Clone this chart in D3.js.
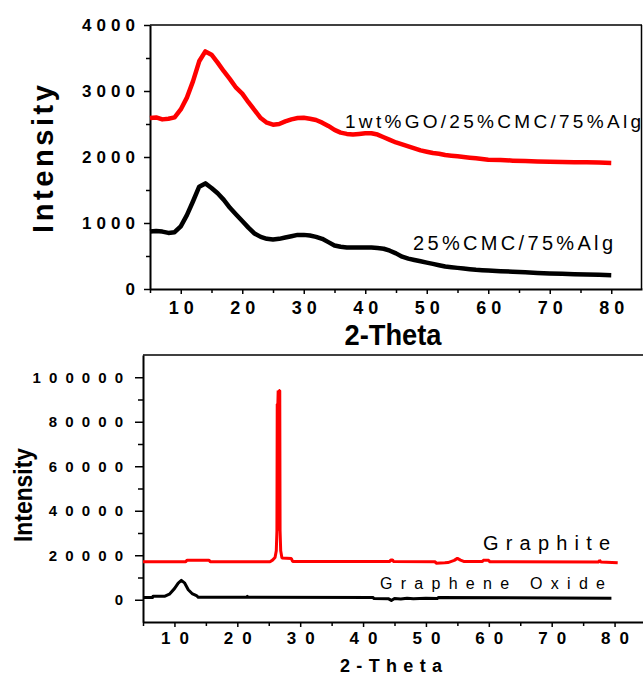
<!DOCTYPE html>
<html><head><meta charset="utf-8">
<script src="https://cdn.jsdelivr.net/npm/d3@7"></script>
<style>body{margin:0;background:#fff}svg{display:block;font-family:"Liberation Sans",Arial,sans-serif}</style>
</head><body><svg id="c" width="643" height="676"></svg>
<script>
// ---------- DATA: top panel (composite films) ----------
const twoThetaTop = [5,6,7,8,9,10,11,12,13,14,15,16,17,18,19,20,21,22,23,24,25,26,27,28,29,30,31,32,33,34,35,36,37,38,39,40,41,42,43,44,45,46,47,48,49,50,51,52,53,54,55,56,57,58,59,60,62,64,66,68,70,72,74,76,78,80];
const intensityGOFilm = [2590,2600,2570,2580,2600,2720,2900,3150,3450,3600,3550,3430,3300,3180,3050,2960,2830,2710,2590,2520,2490,2500,2540,2570,2590,2595,2580,2560,2520,2470,2410,2370,2350,2340,2350,2360,2360,2340,2300,2260,2220,2190,2160,2130,2100,2080,2060,2050,2030,2020,2010,2000,1990,1980,1970,1960,1955,1945,1938,1932,1928,1925,1922,1920,1915,1910];
const intensityBlendFilm = [870,880,870,850,860,950,1120,1330,1550,1600,1530,1450,1350,1230,1130,1030,930,840,790,760,750,760,780,800,820,820,810,790,760,710,660,640,630,630,630,630,630,620,610,580,540,490,460,440,420,400,380,360,340,330,320,310,300,290,285,280,270,262,252,243,235,230,224,220,215,210];
const topYTicks = [0,1000,2000,3000,4000];
const topYMinor = [500,1500,2500,3500];
const xTicks = [10,20,30,40,50,60,70,80];
const xMinor = [5,15,25,35,45,55,65,75];
const topLabels = ["1wt%GO/25%CMC/75%Alg","25%CMC/75%Alg"];

// ---------- DATA: bottom panel (graphite / graphene oxide) ----------
const graphiteTheta = [5,11.8,12.0,15.5,15.7,25.2,25.6,26.0,26.2,26.3,26.35,26.45,26.5,26.6,26.65,26.75,26.8,26.9,27.1,28.6,28.8,44.3,44.4,44.7,44.8,51.5,51.6,53,53.5,54.5,55,55.5,56,59,59.1,60,60.1,77.5,77.6,77.8,80.5];
const graphiteInt = [17100,17100,17800,17800,17100,17100,17800,19000,22000,31000,88000,88000,94000,31000,94000,94000,31000,22000,18800,18500,17200,17200,17900,17900,17200,17100,16400,16600,16700,17700,18600,17800,17200,17200,17700,17700,17100,17000,17800,17000,16600];
const goTheta = [5,6.5,6.6,8.5,9.2,10,10.6,11.1,11.6,12.2,12.8,13.5,13.8,21.5,21.6,21.7,41.6,41.7,44,44.5,45,46,47,48,50,51.8,52,79.5];
const goInt = [1000,1000,1600,1600,2500,5000,7500,8700,7600,4500,2800,1900,1100,1100,1500,1100,1000,600,500,-300,600,300,700,400,700,600,1000,700];
const botYTicks = [0,20000,40000,60000,80000,100000];
const botYMinor = [10000,30000,50000,70000,90000];
const bottomLabels = ["Graphite","Graphene Oxide"];

const svg = d3.select("#c");
const FONT = '"Liberation Sans",Arial,sans-serif';

// ---------- TOP PANEL ----------
const xT = d3.scaleLinear().domain([5,85]).range([150,642]);
const yT = d3.scaleLinear().domain([0,4000]).range([289,25]);
const gT = svg.append("g");

gT.append("line").attr("x1",xT(5)).attr("x2",xT(85)).attr("y1",yT(4000)).attr("y2",yT(4000)).attr("stroke","#000").attr("stroke-width",1.5);
gT.append("line").attr("x1",xT(85)-0.5).attr("x2",xT(85)-0.5).attr("y1",yT(4000)).attr("y2",yT(0)).attr("stroke","#000").attr("stroke-width",1.5);

function styleAxis(g, sw){
  g.select(".domain").attr("stroke-width",sw);
  g.selectAll(".tick line").attr("stroke-width",1.5);
}

const ayT = gT.append("g").attr("transform",`translate(${xT(5)},0)`)
  .call(d3.axisLeft(yT).tickValues(topYTicks).tickSize(6).tickSizeOuter(0).tickPadding(9).tickFormat(d=>String(d)));
styleAxis(ayT,2);
ayT.selectAll("text").attr("font-family",FONT).attr("font-size",17).attr("font-weight","bold")
  .each(function(d){const s=String(d); if(s.length>1) d3.select(this).attr("textLength",(s.length-1)*14.3+10).attr("lengthAdjust","spacing");});
gT.append("g").attr("transform",`translate(${xT(5)},0)`)
  .call(d3.axisLeft(yT).tickValues(topYMinor).tickSize(4).tickFormat("")).call(g=>{g.select(".domain").remove();g.selectAll("line").attr("stroke-width",1.5);});

const axT = gT.append("g").attr("transform",`translate(0,${yT(0)})`)
  .call(d3.axisBottom(xT).tickValues(xTicks).tickSize(5).tickSizeOuter(0).tickPadding(7).tickFormat(d=>String(d)));
styleAxis(axT,2);
axT.selectAll("text").attr("font-family",FONT).attr("font-size",18).attr("font-weight","bold")
  .attr("textLength",25).attr("lengthAdjust","spacing");
gT.append("g").attr("transform",`translate(0,${yT(0)})`)
  .call(d3.axisBottom(xT).tickValues(xMinor).tickSize(4).tickFormat("")).call(g=>{g.select(".domain").remove();g.selectAll("line").attr("stroke-width",1.5);});

const lineT = d3.line().x((d,i)=>xT(twoThetaTop[i])).y(d=>yT(d)).curve(d3.curveLinear);
gT.append("path").datum(intensityBlendFilm).attr("d",lineT).attr("fill","none").attr("stroke","#000").attr("stroke-width",4.5).attr("stroke-linejoin","round");
gT.append("path").datum(intensityGOFilm).attr("d",lineT).attr("fill","none").attr("stroke","#f00").attr("stroke-width",4.5).attr("stroke-linejoin","round");

gT.append("text").attr("x",345).attr("y",128).attr("font-size",19).attr("textLength",296).attr("lengthAdjust","spacing").attr("fill","#000").text(topLabels[0]);
gT.append("text").attr("x",413).attr("y",250).attr("font-size",20).attr("textLength",200).attr("lengthAdjust","spacing").attr("fill","#000").text(topLabels[1]);

gT.append("text").attr("transform","translate(53,159) rotate(-90)").attr("text-anchor","middle").attr("font-size",29).attr("font-weight","bold")
  .attr("textLength",148).attr("lengthAdjust","spacing").text("Intensity");
gT.append("text").attr("x",393).attr("y",345).attr("text-anchor","middle").attr("font-size",29).attr("font-weight","bold")
  .attr("textLength",97).attr("lengthAdjust","spacingAndGlyphs").text("2-Theta");

// ---------- BOTTOM PANEL ----------
const xB = d3.scaleLinear().domain([5,85]).range([143,646]);
const yB = d3.scaleLinear().domain([-10000,110000]).range([622,355]);
const gB = svg.append("g");

gB.append("line").attr("x1",xB(5)).attr("x2",xB(85)).attr("y1",yB(110000)).attr("y2",yB(110000)).attr("stroke","#000").attr("stroke-width",1.5);

const ayB = gB.append("g").attr("transform",`translate(${xB(5)},0)`)
  .call(d3.axisLeft(yB).tickValues(botYTicks).tickSize(8).tickSizeOuter(0).tickPadding(12).tickFormat(d=>String(d)));
styleAxis(ayB,2);
ayB.selectAll("text").attr("font-family",FONT).attr("font-size",15).attr("font-weight","bold")
  .each(function(d){const s=String(d); if(s.length>1) d3.select(this).attr("textLength",(s.length-1)*16.3+9).attr("lengthAdjust","spacing");});
gB.append("g").attr("transform",`translate(${xB(5)},0)`)
  .call(d3.axisLeft(yB).tickValues(botYMinor).tickSize(5).tickFormat("")).call(g=>{g.select(".domain").remove();g.selectAll("line").attr("stroke-width",1.5);});

const axB = gB.append("g").attr("transform",`translate(0,${yB(-10000)})`)
  .call(d3.axisBottom(xB).tickValues(xTicks).tickSize(5).tickSizeOuter(0).tickPadding(5).tickFormat(d=>String(d)));
styleAxis(axB,2);
axB.selectAll("text").attr("font-family",FONT).attr("font-size",17).attr("font-weight","bold")
  .attr("textLength",28).attr("lengthAdjust","spacing");
gB.append("g").attr("transform",`translate(0,${yB(-10000)})`)
  .call(d3.axisBottom(xB).tickValues(xMinor).tickSize(4).tickFormat("")).call(g=>{g.select(".domain").remove();g.selectAll("line").attr("stroke-width",1.5);});

const lineG = d3.line().x((d,i)=>xB(graphiteTheta[i])).y(d=>yB(d));
const lineO = d3.line().x((d,i)=>xB(goTheta[i])).y(d=>yB(d));
gB.append("path").datum(goInt).attr("d",lineO).attr("fill","none").attr("stroke","#000").attr("stroke-width",3).attr("stroke-linejoin","round");
gB.append("path").datum(graphiteInt).attr("d",lineG).attr("fill","none").attr("stroke","#f00").attr("stroke-width",3).attr("stroke-linejoin","bevel");

gB.append("text").attr("x",483).attr("y",550).attr("font-size",20).attr("textLength",127).attr("lengthAdjust","spacing").text(bottomLabels[0]);
gB.append("text").attr("x",380).attr("y",589).attr("font-size",16).attr("textLength",225).attr("lengthAdjust","spacing").text(bottomLabels[1]);

gB.append("text").attr("transform","translate(32,495) rotate(-90)").attr("text-anchor","middle").attr("font-size",25).attr("font-weight","bold")
  .attr("textLength",94).attr("lengthAdjust","spacingAndGlyphs").text("Intensity");
gB.append("text").attr("x",340).attr("y",672).attr("font-size",18).attr("font-weight","bold")
  .attr("textLength",102).attr("lengthAdjust","spacing").text("2-Theta");
</script></body></html>
